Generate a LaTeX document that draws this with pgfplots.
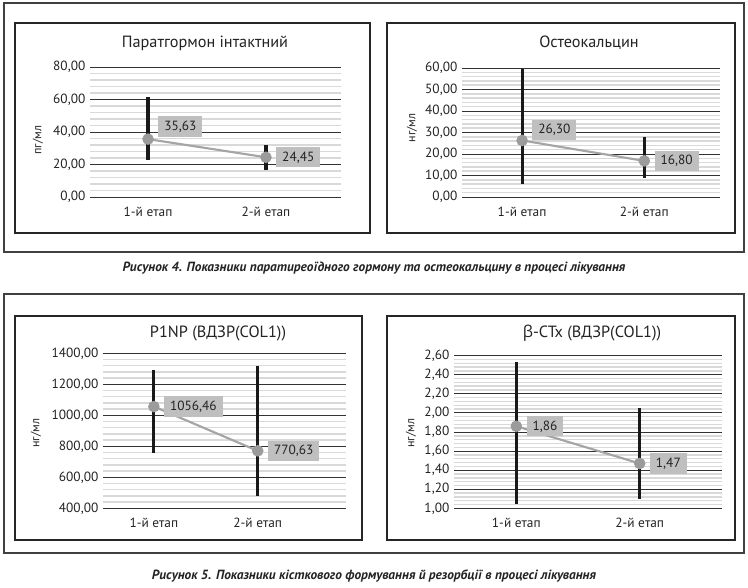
\documentclass[border=0pt]{standalone}
\usepackage{fontspec}
\setmainfont{PT Sans}
\newfontfamily\grk{Open Sans}
\usepackage{pgfplots}
\pgfplotsset{compat=1.18}

\definecolor{minorg}{RGB}{217,217,217}
\definecolor{majorg}{RGB}{50,50,50}
\definecolor{lineg}{RGB}{165,165,165}
\definecolor{markg}{RGB}{155,155,155}
\definecolor{lblg}{RGB}{191,191,191}
\definecolor{txt}{RGB}{35,35,35}

\pgfplotsset{
  panel/.style={
    scale only axis, anchor=south west,
    axis line style={draw=none},
    major tick length=0pt, minor tick length=0pt,
    ymajorgrids, yminorgrids, minor y tick num=4,
    major grid style={majorg, line width=0.7pt},
    minor grid style={minorg, line width=1.1pt},
    xtick={1,2}, xticklabels={1-й етап, 2-й етап},
    ticklabel style={font=\fontsize{10}{11}\selectfont, text=txt},
    xticklabel style={yshift=-4pt},
    yticklabel={\pgfmathprintnumber[fixed,fixed zerofill,precision=2,use comma,1000 sep={}]{\tick}},
    /pgf/number format/assume math mode=true,
    clip=false,
  },
  ebar/.style={draw=none, mark=none, forget plot,
    error bars/.cd, y dir=both, y explicit, error mark=none,
    error bar style={draw=black!90, line width=2.3pt}},
  mainline/.style={color=lineg, line width=1.6pt, mark=*, mark size=3.5pt,
    mark options={fill=markg, draw=markg}},
  lbl/.style={draw=none, mark=none,
    nodes near coords={\pgfmathprintnumber[fixed,fixed zerofill,precision=2,use comma,1000 sep={}]{\pgfplotspointmeta}},
    nodes near coords style={anchor=west, xshift=7.5pt, fill=lblg, text=txt,
      font=\fontsize{10}{11}\selectfont, inner xsep=4.5pt, inner ysep=3.3pt, #1}},
  lbl/.default={},
}

\begin{document}
\begin{tikzpicture}
\path[use as bounding box] (0,0) rectangle (561pt,-440.25pt);
\begin{scope}[x=0.75pt,y=-0.75pt]
  \draw[line width=0.8pt, black!75] (4,3) rectangle (744,252);
  \draw[line width=0.8pt, black!75] (4,294) rectangle (744,553);
  \draw[line width=0.8pt, black!85] (15,23) rectangle (370,233);
  \draw[line width=0.8pt, black!85] (387,23) rectangle (735,233);
  \draw[line width=0.8pt, black!85] (15,316) rectangle (362,540);
  \draw[line width=0.8pt, black!85] (387,316) rectangle (735,540);
  \node[font=\fontsize{12.2}{14}\selectfont, text=txt] at (205,43) {Паратгормон інтактний};
  \node[font=\fontsize{12.2}{14}\selectfont, text=txt] at (589,43) {Остеокальцин};
  \node[font=\fontsize{12.2}{14}\selectfont, text=txt] at (218,333) {P1NP (ВДЗР(COL1))};
  \node[font=\fontsize{12.2}{14}\selectfont, text=txt] at (592,333) {{\grk β}-CTx (ВДЗР(COL1))};
  \node[rotate=90, font=\fontsize{9}{10}\selectfont, text=txt] at (38,140) {пг/мл};
  \node[rotate=90, font=\fontsize{9}{10}\selectfont, text=txt] at (412,128) {нг/мл};
  \node[rotate=90, font=\fontsize{9}{10}\selectfont, text=txt] at (36,433) {нг/мл};
  \node[rotate=90, font=\fontsize{9}{10}\selectfont, text=txt] at (411,433) {нг/мл};
  \node[font=\bfseries\itshape\fontsize{10}{12}\selectfont, text=txt] at (374,268) {Рисунок 4. Показники паратиреоїдного гормону та остеокальцину в процесі лікування};
  \node[font=\bfseries\itshape\fontsize{10}{12}\selectfont, text=txt] at (374,576) {Рисунок 5. Показники кісткового формування й резорбції в процесі лікування};
\end{scope}

% Panel 1
\begin{axis}[panel, at={(90*0.75pt,-197*0.75pt)}, width=188.25pt, height=97.5pt,
  xmin=0.508, xmax=2.636, ymin=0, ymax=80, ytick={0,20,40,60,80}]
  \addplot[ebar] coordinates {(1,35.63) += (0,25.9) -= (0,13.0) (2,24.45) += (0,7.35) -= (0,8.05)};
  \addplot[mainline] coordinates {(1,35.63) (2,24.45)};
  \addplot[lbl={yshift=9.4pt}] coordinates {(1,35.63)};
  \addplot[lbl] coordinates {(2,24.45)};
\end{axis}

% Panel 2
\begin{axis}[panel, at={(462*0.75pt,-197*0.75pt)}, width=193.5pt, height=96.75pt,
  xmin=0.508, xmax=2.62, ymin=0, ymax=60, ytick={0,10,20,30,40,50,60}]
  \addplot[ebar] coordinates {(1,26.30) += (0,33.1) -= (0,20.1) (2,16.80) += (0,11.1) -= (0,8.0)};
  \addplot[mainline] coordinates {(1,26.30) (2,16.80)};
  \addplot[lbl={yshift=7.9pt}] coordinates {(1,26.30)};
  \addplot[lbl] coordinates {(2,16.80)};
\end{axis}

% Panel 3
\begin{axis}[panel, at={(103*0.75pt,-508.3*0.75pt)}, width=182.25pt, height=116.25pt,
  xmin=0.51, xmax=2.85, ymin=400, ymax=1400, ytick={400,600,800,1000,1200,1400}]
  \addplot[ebar] coordinates {(1,1056.46) += (0,235.5) -= (0,301.5) (2,770.63) += (0,547.4) -= (0,290.6)};
  \addplot[mainline] coordinates {(1,1056.46) (2,770.63)};
  \addplot[lbl] coordinates {(1,1056.46)};
  \addplot[lbl] coordinates {(2,770.63)};
\end{axis}

% Panel 4
\begin{axis}[panel, at={(454*0.75pt,-508.3*0.75pt)}, width=201pt, height=114.5pt,
  xmin=0.495, xmax=2.667, ymin=1, ymax=2.6, ytick={1,1.2,1.4,1.6,1.8,2,2.2,2.4,2.6}]
  \addplot[ebar] coordinates {(1,1.86) += (0,0.67) -= (0,0.81) (2,1.47) += (0,0.58) -= (0,0.37)};
  \addplot[mainline] coordinates {(1,1.86) (2,1.47)};
  \addplot[lbl] coordinates {(1,1.86)};
  \addplot[lbl] coordinates {(2,1.47)};
\end{axis}
\end{tikzpicture}
\end{document}
